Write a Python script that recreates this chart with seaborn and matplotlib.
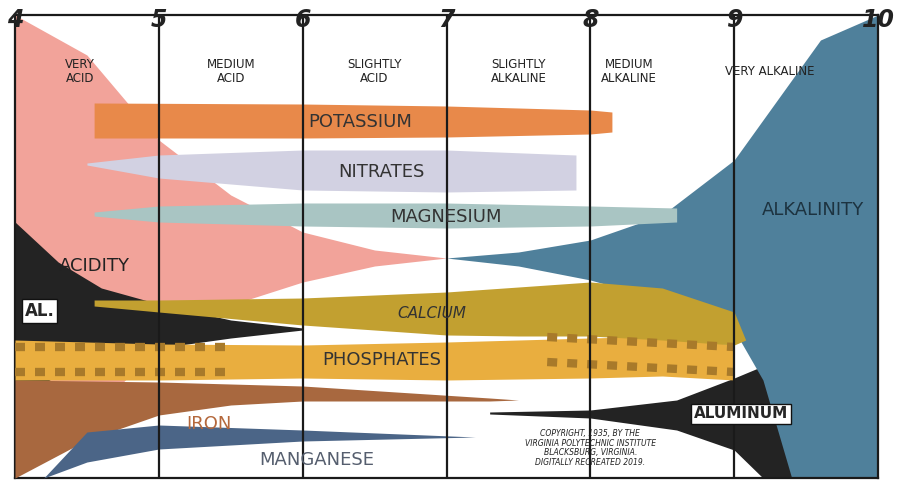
import numpy as np
import matplotlib
matplotlib.use("Agg")
import matplotlib.pyplot as plt
import seaborn as sns

sns.set_theme(style="white")
plt.rcParams['font.family'] = ['DejaVu Sans']

# pH axis
ph_ticks = [4, 5, 6, 7, 8, 9, 10]
zones = ["VERY\nACID", "MEDIUM\nACID", "SLIGHTLY\nACID", "SLIGHTLY\nALKALINE", "MEDIUM\nALKALINE", "VERY ALKALINE"]
zone_x = [4.45, 5.5, 6.5, 7.5, 8.27, 9.25]

# bands: x, upper edge, lower edge  (y = depth from top of chart)
acid_x = [4, 4.5, 5, 5.5, 6, 6.5, 7]
acid_up = [15, 55, 140, 195, 232, 250, 258]
acid_lo = [478, 420, 345, 305, 282, 266, 258]

alk_x = [7, 7.5, 8, 8.5, 9, 9.2, 9.4, 9.6, 10]
alk_up = [258, 252, 240, 215, 160, 120, 80, 40, 15]
alk_lo = [258, 266, 280, 300, 330, 380, 478, 478, 478]

alr_x = [7.3, 8, 8.6, 9, 9.2, 9.4]
alr_up = [412, 410, 400, 378, 366, 370]
alr_lo = [414, 418, 430, 450, 478, 478]

all_x = [4, 4.3, 4.6, 5, 5.5, 6]
all_up = [222, 262, 288, 304, 320, 328]
all_lo = [400, 375, 360, 348, 338, 330]

pot_x = [4.55, 6, 7, 8, 8.15]
pot_up = [103, 104, 106, 110, 112]
pot_lo = [138, 138, 137, 134, 132]

nit_x = [4.5, 5, 6, 7, 7.9]
nit_up = [163, 155, 150, 150, 155]
nit_lo = [165, 178, 190, 192, 190]

mag_x = [4.55, 5, 6, 7, 8, 8.6]
mag_up = [212, 206, 203, 203, 206, 208]
mag_lo = [216, 222, 226, 228, 226, 222]

cal_x = [4.55, 5, 6, 7, 7.5, 8, 8.5, 9, 9.08]
cal_up = [300, 300, 298, 292, 287, 282, 288, 312, 340]
cal_lo = [306, 312, 325, 335, 336, 336, 340, 345, 340]

pho_x = [4, 5, 6, 7, 8, 8.5, 9]
pho_up = [340, 344, 345, 342, 338, 336, 345]
pho_lo = [380, 380, 378, 380, 378, 376, 380]

iron_x = [4, 4.5, 5, 5.5, 6, 7.3, 7.5]
iron_up = [380, 381, 382, 384, 386, 398, 400]
iron_lo = [478, 440, 415, 405, 401, 401, 400]

man_x = [4.2, 4.5, 5, 6, 7.2]
man_up = [478, 432, 425, 430, 437]
man_lo = [478, 462, 449, 441, 437]

fig = plt.figure(figsize=(9.02, 4.95), dpi=100)
ax = fig.add_axes([15 / 902, 1 - 478 / 495, 863 / 902, 463 / 495])
ax.set_xlim(4, 10)
ax.set_ylim(478, 15)

def band(x, up, lo, c, z):
    ax.fill_between(x, up, lo, color=c, lw=0, zorder=z)

band(acid_x, acid_up, acid_lo, '#f2a39a', 1)
band(all_x, all_up, all_lo, '#232323', 2)
band(alk_x, alk_up, alk_lo, '#4f809b', 1)
band(alr_x, alr_up, alr_lo, '#232323', 0.5)
band(pot_x, pot_up, pot_lo, '#e8894a', 3)
band(nit_x, nit_up, nit_lo, '#d2d1e2', 3)
band(mag_x, mag_up, mag_lo, '#a9c5c3', 3)
band(iron_x, iron_up, iron_lo, '#a8683f', 3)
band(man_x, man_up, man_lo, '#4b6587', 3)
band(pho_x, pho_up, pho_lo, '#e9ae3f', 3)
band(cal_x, cal_up, cal_lo, '#c2a030', 4)
# hatch stripes on phosphates
for yy in [347, 372]:
    ax.plot([4, 5.5], [yy, yy], color='#a87a2a', lw=6, ls=(0, (1.2, 1.2)), zorder=4)
    ax.plot([7.7, 9], [yy - 10, yy], color='#a87a2a', lw=6, ls=(0, (1.2, 1.2)), zorder=4)

for x in ph_ticks[1:-1]:
    ax.axvline(x, color='#1a1a1a', lw=1.6, zorder=6)
for s in ax.spines.values():
    s.set_color('#1a1a1a'); s.set_linewidth(1.6)

ax.set_xticks([])
ax.set_yticks([])
for t in ph_ticks:
    ax.text(t, 20, str(t), ha='center', va='center', fontsize=17, fontweight='bold',
            fontstyle='italic', color='#222', zorder=10, clip_on=False)

for t, x in zip(zones, zone_x):
    ax.text(x, 72, t, ha='center', va='center', fontsize=8.5, color='#222', zorder=7, linespacing=1.1)

lab = dict(ha='center', va='center', color='#333', zorder=8)
ax.text(6.4, 122, "POTASSIUM", fontsize=13, **lab)
ax.text(6.55, 172, "NITRATES", fontsize=13, **lab)
ax.text(7.0, 217, "MAGNESIUM", fontsize=13, **lab)
ax.text(4.55, 266, "ACIDITY", fontsize=13, ha='center', va='center', color='#222', zorder=8)
ax.text(9.55, 210, "ALKALINITY", fontsize=13, ha='center', va='center', color='#1d3340', zorder=8)
ax.text(6.9, 314, "CALCIUM", fontsize=11, fontstyle='italic', **lab)
ax.text(6.55, 360, "PHOSPHATES", fontsize=13, **lab)
ax.text(5.35, 424, "IRON", fontsize=13, ha='center', va='center', color='#b4683c', zorder=8)
ax.text(6.1, 460, "MANGANESE", fontsize=13, ha='center', va='center', color='#555e6e', zorder=8)
box = dict(facecolor='white', edgecolor='#111', pad=2)
ax.text(4.17, 311, "AL.", fontsize=12, fontweight='bold', ha='center', va='center', zorder=9, bbox=box)
ax.text(9.05, 414, "ALUMINUM", fontsize=11, fontweight='bold', ha='center', va='center', zorder=9, bbox=box)
ax.text(8.0, 448, "COPYRIGHT, 1935, BY THE\nVIRGINIA POLYTECHNIC INSTITUTE\nBLACKSBURG, VIRGINIA.\nDIGITALLY RECREATED 2019.",
        fontsize=5.5, fontstyle='italic', ha='center', va='center', color='#222', zorder=8, linespacing=1.1)

fig.savefig("out.png", dpi=100)
